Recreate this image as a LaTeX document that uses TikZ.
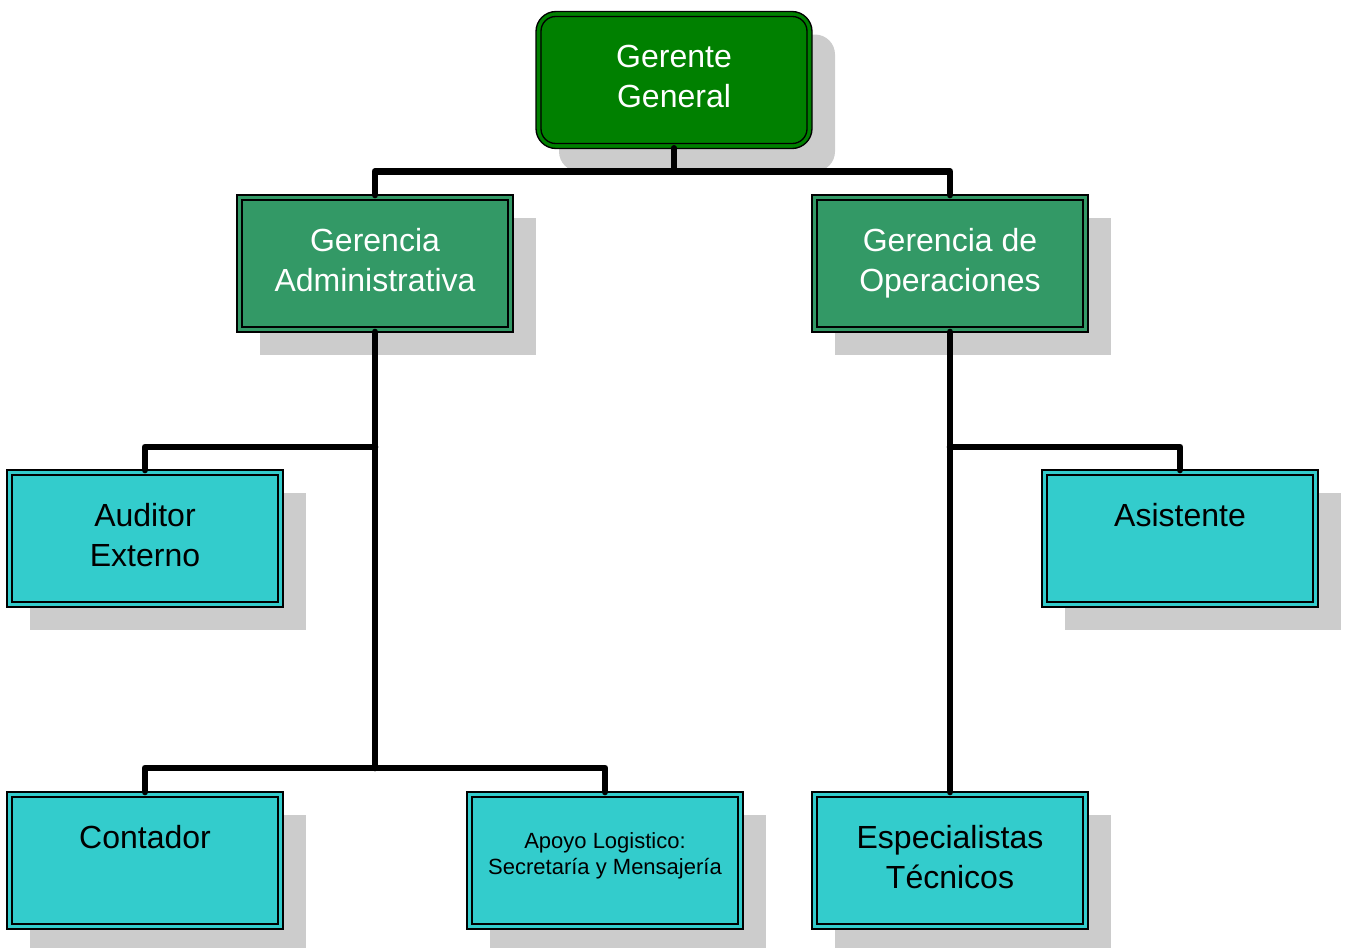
\documentclass[tikz,border=0pt]{standalone}
\usepackage{fontspec}
\setmainfont{Liberation Sans}
\usetikzlibrary{shadows}
\definecolor{topgreen}{HTML}{008000}
\definecolor{midgreen}{HTML}{339966}
\definecolor{staffcyan}{HTML}{33CCCC}
\definecolor{shadowgray}{HTML}{CCCCCC}
% box text: top-aligned block, first baseline 42pt below the top edge
\newcommand\boxlines[1]{\parbox[c][102.75pt][t]{207pt}{\centering\rule{0pt}{42pt}#1}}

\begin{document}
\begin{tikzpicture}[x=0.75pt,y=-0.75pt,
  orgbox/.style={draw=black, line width=1pt, inner sep=0pt, outer sep=0pt,
    minimum width=207pt, minimum height=102.75pt,
    general shadow={fill=shadowgray, shadow xshift=17.25pt, shadow yshift=-17.25pt},
    path picture={\draw[line width=1pt]
      ([xshift=3.75pt,yshift=-3.75pt]path picture bounding box.north west) rectangle
      ([xshift=-3.75pt,yshift=3.75pt]path picture bounding box.south east);},
    font=\fontsize{24}{30}\selectfont},
  headbox/.style={orgbox, rounded corners=15pt, fill=topgreen, text=white,
    path picture={\draw[line width=1pt, rounded corners=11pt]
      ([xshift=3.75pt,yshift=-3.75pt]path picture bounding box.north west) rectangle
      ([xshift=-3.75pt,yshift=3.75pt]path picture bounding box.south east);}},
  mgrbox/.style={orgbox, fill=midgreen, text=white},
  staffbox/.style={orgbox, fill=staffcyan, text=black},
  conn/.style={line width=5pt, line cap=round, line join=round}]

\useasboundingbox (0,0) rectangle (1348,947);

% boxes
\node[headbox]  (gg) at (674,80)    {\boxlines{Gerente\\General}};
\node[mgrbox]   (ga) at (375,263.5) {\boxlines{Gerencia\\Administrativa}};
\node[mgrbox]   (go) at (950,263.5) {\boxlines{Gerencia de\\Operaciones}};
\node[staffbox] (au) at (145,538.5) {\boxlines{Auditor\\Externo}};
\node[staffbox] (as) at (1180,538.5) {\boxlines{Asistente}};
\node[staffbox] (ct) at (145,860.5) {\boxlines{Contador}};
\node[staffbox, font=\fontsize{16.5}{19.5}\selectfont]
                (ap) at (605,860.5) {\boxlines{Apoyo Logistico:\\Secretaría y Mensajería}};
\node[staffbox] (es) at (950,860.5) {\boxlines{Especialistas\\Técnicos}};

% junction points on the trunks
\coordinate (adm-mid) at (375,447);
\coordinate (adm-low) at (375,768);
\coordinate (ops-mid) at (950,447);

% connectors
\draw[conn] (gg.south) -- ++(0,23) -| (ga.north);
\draw[conn] (gg.south) -- ++(0,23) -| (go.north);
\draw[conn] (ga.south) -- (adm-low);
\draw[conn] (adm-mid) -| (au.north);
\draw[conn] (ct.north) |- (adm-low) -| (ap.north);
\draw[conn] (go.south) -- (es.north);
\draw[conn] (ops-mid) -| (as.north);
\end{tikzpicture}
\end{document}
